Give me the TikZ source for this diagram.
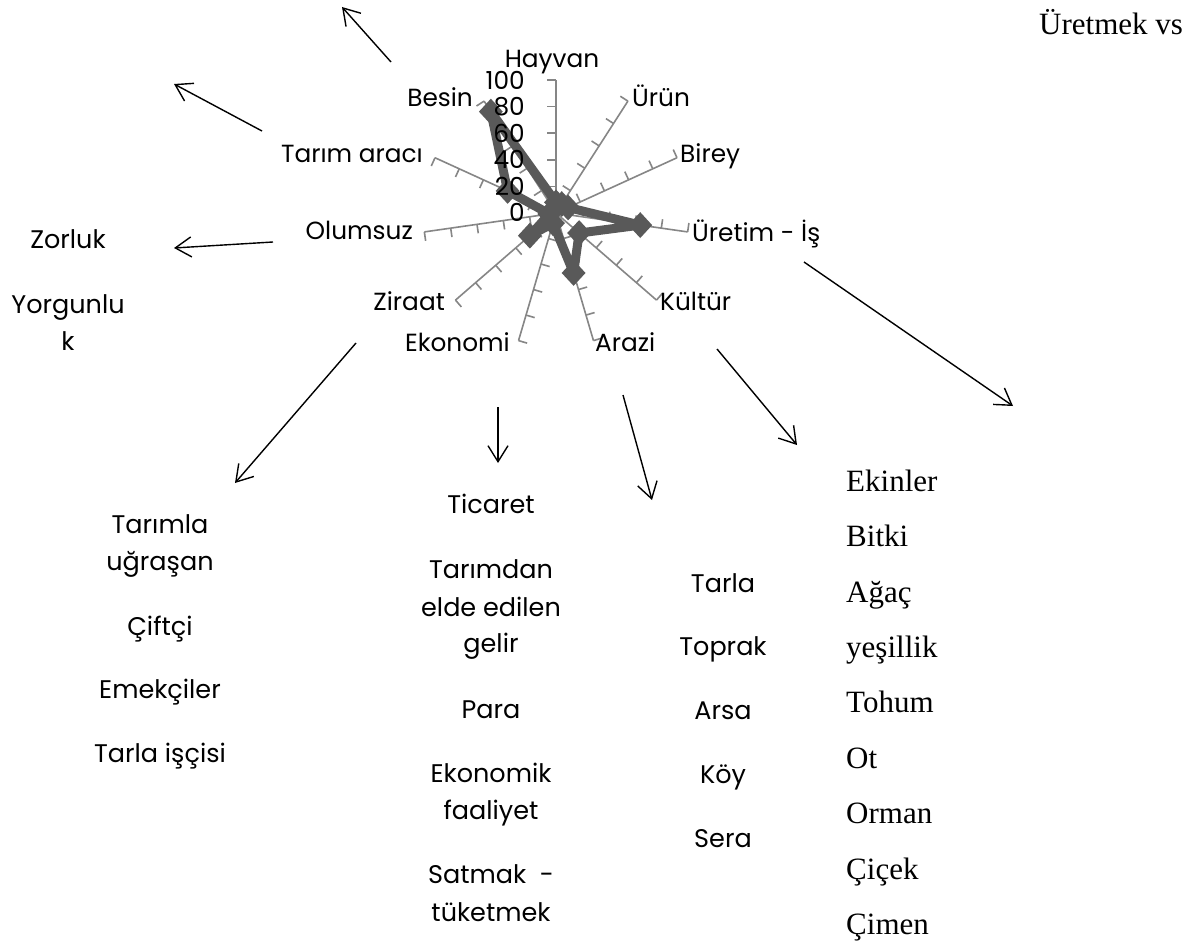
\documentclass[tikz,border=0pt]{standalone}
\usepackage{fontspec}
\setmainfont{Poppins}
\newfontfamily\serifTNR{Liberation Serif}
\usetikzlibrary{arrows.meta,shapes.geometric,calc}
\definecolor{axisgray}{RGB}{134,134,134}
\definecolor{seriesgray}{RGB}{89,89,89}
\begin{document}
\begin{tikzpicture}[x=1pt,y=-1pt,
  lbl/.style={inner sep=0pt, font=\fontsize{24.8}{28}\selectfont},
  txt/.style={inner sep=0pt, anchor=base, font=\fontsize{25.5}{30}\selectfont},
  tnr/.style={inner sep=0pt, anchor=base west, font=\serifTNR\fontsize{31}{36}\selectfont},
  arr/.style={draw=black, line width=1.4pt, -{Straight Barb[length=16pt,width=20pt,line width=1.4pt]}},
  axisline/.style={draw=axisgray, line width=1.6pt},
  series/.style={draw=seriesgray, line width=9pt, line join=round},
  mk/.style={fill=seriesgray, draw=none, diamond, minimum width=24pt, minimum height=26pt, inner sep=0pt}
]
\useasboundingbox (0,0) rectangle (1195,947);
\fill[white] (0,0) rectangle (1195,947);

% ---------- radar chart ----------
\begin{scope}[shift={(556,213)}, x=1pt, y=1pt]
  \coordinate (C) at (0,0);
  \foreach \k in {0,...,10} {
    \pgfmathsetmacro{\a}{90-\k*360/11}
    \draw[axisline] (C) -- (\a:133);
    \foreach \j in {1,...,5} {
      \draw[axisline] (\a:\j*26.6) -- ++(\a+90:9);
    }
  }
  \coordinate (p0) at (90:10.6);
  \coordinate (p1) at (57.27:10.6);
  \coordinate (p2) at (24.55:13.3);
  \coordinate (p3) at (-8.18:85.1);
  \coordinate (p4) at (-40.91:30.6);
  \coordinate (p5) at (-73.64:62.5);
  \coordinate (p6) at (-106.36:10.6);
  \coordinate (p7) at (-139.09:34.6);
  \coordinate (p8) at (-171.82:6.7);
  \coordinate (p9) at (155.45:53.2);
  \coordinate (p10) at (122.73:120.5);
  \draw[series] (p0) -- (p1) -- (p2) -- (p3) -- (p4) -- (p5) -- (p6) -- (p7) -- (p8) -- (p9) -- (p10) -- cycle;
  \foreach \i in {0,...,10} { \node[mk] (m\i) at (p\i) {}; }
\end{scope}

% category labels
\node[lbl, anchor=base] (lHayvan) at (552,68) {Hayvan};
\node[lbl, anchor=base west] (lUrun) at (632,107) {Ürün};
\node[lbl, anchor=base west] (lBirey) at (680,163) {Birey};
\node[lbl, anchor=base west] (lUretim) at (692,241) {Üretim - İş};
\node[lbl, anchor=base west] (lKultur) at (660,310) {Kültür};
\node[lbl, anchor=base west] (lArazi) at (595,351) {Arazi};
\node[lbl, anchor=base east] (lEkonomi) at (510,351) {Ekonomi};
\node[lbl, anchor=base east] (lZiraat) at (445,310) {Ziraat};
\node[lbl, anchor=base east] (lOlumsuz) at (413,240) {Olumsuz};
\node[lbl, anchor=base east] (lTarim) at (423,163) {Tarım aracı};
\node[lbl, anchor=base east] (lBesin) at (473,107) {Besin};
% value labels
\node[lbl, anchor=base east] (v0) at (525,222) {0};
\node[lbl, anchor=base east] (v20) at (525,196) {20};
\node[lbl, anchor=base east] (v40) at (525,169) {40};
\node[lbl, anchor=base east] (v60) at (525,143) {60};
\node[lbl, anchor=base east] (v80) at (525,116) {80};
\node[lbl, anchor=base east] (v100) at (525,90) {100};

% ---------- arrows ----------
\coordinate (a1s) at (391,62);  \coordinate (a1e) at (342,7);
\coordinate (a2s) at (262,131); \coordinate (a2e) at (174,84);
\coordinate (a3s) at (273,242); \coordinate (a3e) at (174,248);
\coordinate (a4s) at (356,343); \coordinate (a4e) at (235,483);
\coordinate (a5s) at (498,407); \coordinate (a5e) at (498,463);
\coordinate (a6s) at (623,395); \coordinate (a6e) at (652,500);
\coordinate (a7s) at (717,349); \coordinate (a7e) at (797,445);
\coordinate (a8s) at (804,262); \coordinate (a8e) at (1013,406);
\foreach \i in {1,...,8} { \draw[arr] (a\i s) -- (a\i e); }

% ---------- texts ----------
\node[tnr] (tUretmek) at (1039,35) {Üretmek vs};

\node[txt] (tZorluk) at (68,248) {Zorluk};
\node[txt] (tYorg1) at (68,313) {Yorgunlu};
\node[txt] (tYorg2) at (68,350) {k};

\node[txt] (c1a) at (160,533) {Tarımla};
\node[txt] (c1b) at (160,570) {uğraşan};
\node[txt] (c1c) at (160,635) {Çiftçi};
\node[txt] (c1d) at (160,698) {Emekçiler};
\node[txt] (c1e) at (160,762) {Tarla işçisi};

\node[txt] (c2a) at (491,513) {Ticaret};
\node[txt] (c2b) at (491,578) {Tarımdan};
\node[txt] (c2c) at (491,616) {elde edilen};
\node[txt] (c2d) at (491,652) {gelir};
\node[txt] (c2e) at (491,718) {Para};
\node[txt] (c2f) at (491,782) {Ekonomik};
\node[txt] (c2g) at (491,819) {faaliyet};
\node[txt] (c2h) at (491,883) {Satmak\ \ -};
\node[txt] (c2i) at (491,921) {tüketmek};

\node[txt] (c3a) at (723,592) {Tarla};
\node[txt] (c3b) at (723,655) {Toprak};
\node[txt] (c3c) at (723,719) {Arsa};
\node[txt] (c3d) at (723,783) {Köy};
\node[txt] (c3e) at (723,847) {Sera};

\node[tnr] (c4a) at (846,491) {Ekinler};
\node[tnr] (c4b) at (846,546) {Bitki};
\node[tnr] (c4c) at (846,602) {Ağaç};
\node[tnr] (c4d) at (846,657) {yeşillik};
\node[tnr] (c4e) at (846,712) {Tohum};
\node[tnr] (c4f) at (846,768) {Ot};
\node[tnr] (c4g) at (846,823) {Orman};
\node[tnr] (c4h) at (846,879) {Çiçek};
\node[tnr] (c4i) at (846,934) {Çimen};
\end{tikzpicture}
\end{document}
